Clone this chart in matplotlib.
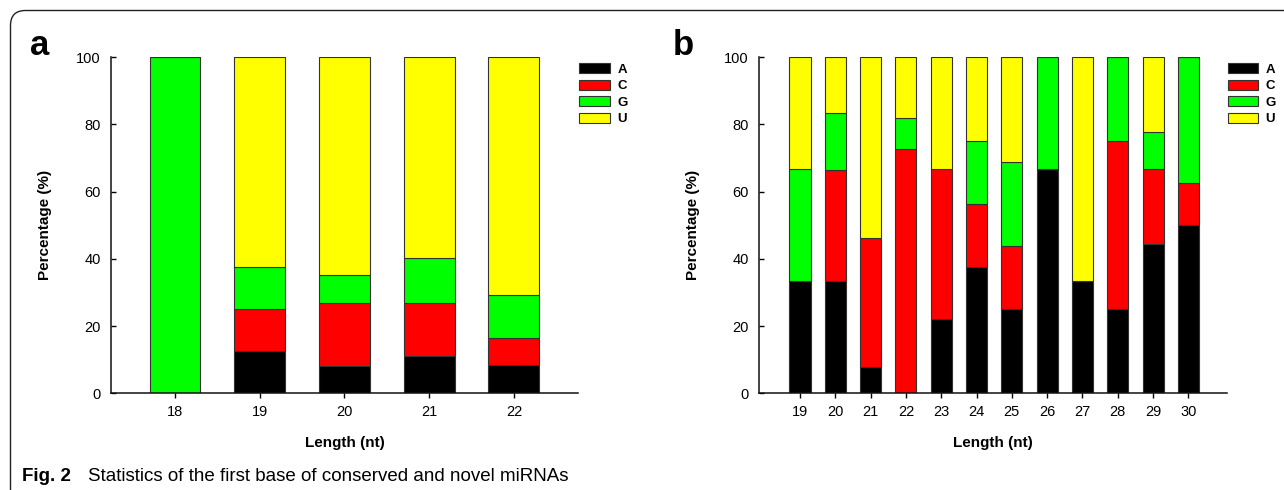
import matplotlib
matplotlib.use("Agg")
import matplotlib.pyplot as plt
from matplotlib.patches import Patch, FancyBboxPatch
import numpy as np

plt.rcParams['font.family'] = ['Liberation Sans', 'DejaVu Sans']

# ---------------- data ----------------
bases = ['A', 'C', 'G', 'U']
colors = ['#000000', '#ff0000', '#00ff00', '#ffff00']

len_a = [18, 19, 20, 21, 22]
a_A = [0.0, 12.5, 8.1, 11.1, 8.3]
a_C = [0.0, 12.5, 18.9, 15.7, 8.3]
a_G = [100.0, 12.5, 8.1, 13.6, 12.6]
a_U = [0.0, 62.5, 64.9, 59.6, 70.8]

len_b = [19, 20, 21, 22, 23, 24, 25, 26, 27, 28, 29, 30]
b_A = [33.3, 33.3, 7.7, 0.0, 22.2, 37.5, 25.0, 66.7, 33.3, 25.0, 44.4, 50.0]
b_C = [0.0, 33.3, 38.5, 72.7, 44.5, 18.75, 18.75, 0.0, 0.0, 50.0, 22.3, 12.5]
b_G = [33.4, 16.7, 0.0, 9.1, 0.0, 18.75, 25.0, 33.3, 0.0, 25.0, 11.1, 37.5]
b_U = [33.3, 16.7, 53.8, 18.2, 33.3, 25.0, 31.25, 0.0, 66.7, 0.0, 22.2, 0.0]

yticks = [0, 20, 40, 60, 80, 100]

W, H = 1284, 490
fig = plt.figure(figsize=(W / 100, H / 100), dpi=100)

# rounded frame (only the top-left corner is visible)
frame = FancyBboxPatch((10.5 / 100, -1.0), 20.0, (H - 10.5) / 100 + 1.0,
                       boxstyle="round,pad=0,rounding_size=0.15",
                       transform=fig.dpi_scale_trans, fill=False,
                       edgecolor='#222222', linewidth=1.0, clip_on=False)
fig.patches.append(frame)


def panel(left_px, right_px, lengths, series, xlim, leg_x, label, label_x):
    bot = 1 - 393.3 / H
    top = 1 - 57.3 / H
    ax = fig.add_axes([left_px / W, bot, (right_px - left_px) / W, top - bot])
    x = np.array(lengths)
    bottom = np.zeros(len(lengths))
    for vals, c, name in zip(series, colors, bases):
        v = np.array(vals)
        ax.bar(x, v, width=0.6, bottom=bottom, color=c, edgecolor='#333333',
               linewidth=0.8, label=name)
        bottom += v
    ax.set_xlim(*xlim)
    ax.set_ylim(0, 100)
    ax.set_xticks(lengths)
    ax.set_yticks(yticks)
    ax.tick_params(axis='both', width=1.0, labelsize=10.5, colors='black')
    ax.tick_params(axis='x', direction='out', length=3.6, pad=5)
    ax.tick_params(axis='y', direction='in', length=3.6, pad=7.5)
    for s in ['top', 'right']:
        ax.spines[s].set_visible(False)
    for s in ['left', 'bottom']:
        ax.spines[s].set_linewidth(1.1)
        ax.spines[s].set_color('#111111')
    ax.set_xlabel('Length (nt)', fontsize=11, fontweight='bold', va='top')
    ax.xaxis.set_label_coords(0.5, -0.127)
    ax.set_ylabel('Percentage (%)', fontsize=11, fontweight='bold')
    ax.yaxis.set_label_coords(-0.127, 0.5)
    handles = [Patch(facecolor=c, edgecolor='#333333', linewidth=0.8) for c in colors]
    fig.legend(handles, bases, loc='upper left',
               bbox_to_anchor=(leg_x / W, 1 - 63.5 / H), frameon=False,
               prop={'weight': 'bold', 'size': 9.5},
               handlelength=2.33, handleheight=0.76, labelspacing=0.3,
               handletextpad=0.55, borderaxespad=0, borderpad=0)
    fig.text(label_x / W, 1 - 55 / H, label, fontsize=25, fontweight='bold',
             ha='left', va='baseline')
    return ax


panel(111, 578.3, len_a, [a_A, a_C, a_G, a_U], (17.245, 22.76), 579.3, 'a', 30)
panel(759.3, 1227.3, len_b, [b_A, b_C, b_G, b_U], (17.85, 31.1), 1227.7, 'b', 673)

# caption
fig.text(22 / W, 1 - 481 / H, 'Fig. 2', fontsize=13.5, fontweight='bold',
         ha='left', va='baseline')
fig.text(88 / W, 1 - 481 / H,
         'Statistics of the first base of conserved and novel miRNAs',
         fontsize=13.5, ha='left', va='baseline')

fig.savefig('out.png', dpi=100)
